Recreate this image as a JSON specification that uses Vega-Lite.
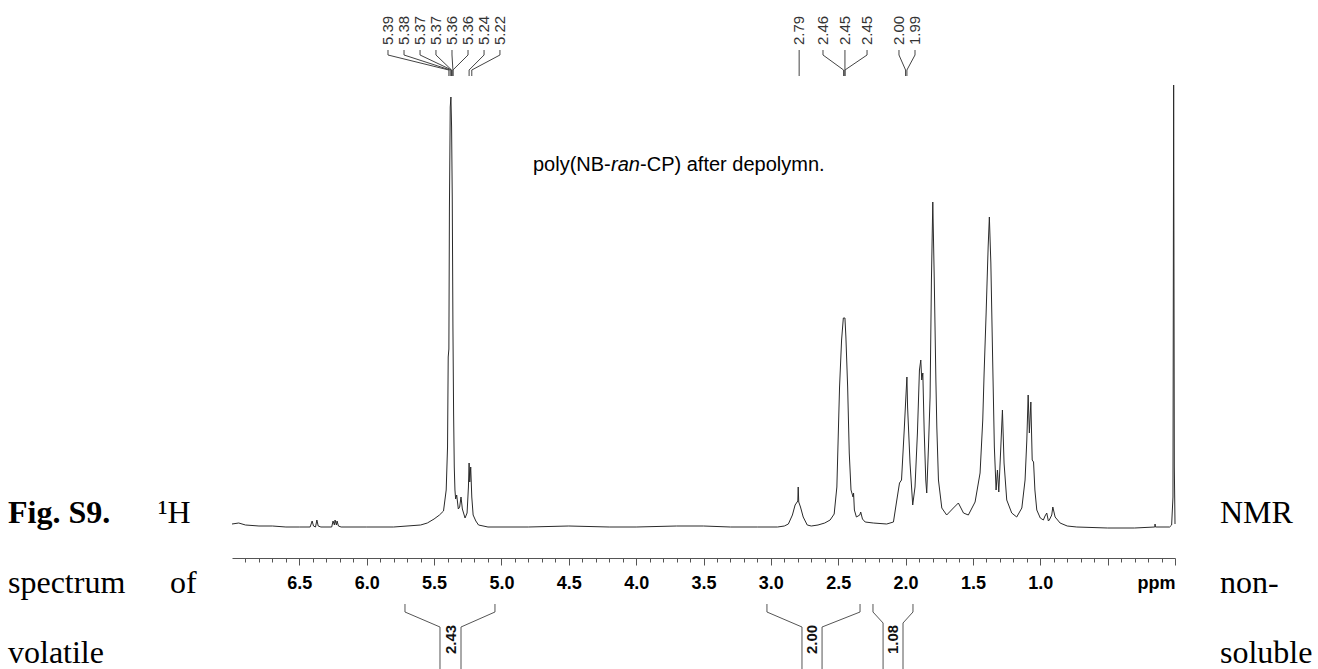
{
  "$schema": "https://vega.github.io/schema/vega-lite/v6.json",
  "width": 943,
  "height": 558,
  "autosize": {"type": "none"},
  "padding": {"left": 232, "right": 143, "top": 0, "bottom": 111},
  "background": "white",
  "config": {"view": {"stroke": null}},
  "resolve": {"axis": {"x": "independent"}},
  "datasets": {
    "spectrum": [
      {"ppm": 7.0, "v": 3}, {"ppm": 6.95, "v": 4}, {"ppm": 6.9, "v": 2}, {"ppm": 6.8, "v": 1}, {"ppm": 6.7, "v": 1}, {"ppm": 6.6, "v": 0}, {"ppm": 6.5, "v": 0},
      {"ppm": 6.42, "v": 0}, {"ppm": 6.405, "v": 6}, {"ppm": 6.395, "v": 1}, {"ppm": 6.38, "v": 0}, {"ppm": 6.37, "v": 7}, {"ppm": 6.36, "v": 1}, {"ppm": 6.34, "v": 0},
      {"ppm": 6.26, "v": 0}, {"ppm": 6.25, "v": 6}, {"ppm": 6.24, "v": 2}, {"ppm": 6.235, "v": 7}, {"ppm": 6.225, "v": 2}, {"ppm": 6.22, "v": 6}, {"ppm": 6.21, "v": 1}, {"ppm": 6.19, "v": 0},
      {"ppm": 6.0, "v": 0}, {"ppm": 5.8, "v": 0}, {"ppm": 5.6, "v": 2}, {"ppm": 5.55, "v": 4}, {"ppm": 5.5, "v": 8}, {"ppm": 5.46, "v": 12}, {"ppm": 5.43, "v": 16},
      {"ppm": 5.41, "v": 37}, {"ppm": 5.4, "v": 80}, {"ppm": 5.395, "v": 170}, {"ppm": 5.39, "v": 178}, {"ppm": 5.386, "v": 320}, {"ppm": 5.38, "v": 420},
      {"ppm": 5.375, "v": 430}, {"ppm": 5.37, "v": 400}, {"ppm": 5.365, "v": 330}, {"ppm": 5.36, "v": 200}, {"ppm": 5.355, "v": 114}, {"ppm": 5.35, "v": 60},
      {"ppm": 5.345, "v": 37}, {"ppm": 5.34, "v": 28}, {"ppm": 5.332, "v": 32}, {"ppm": 5.32, "v": 18}, {"ppm": 5.31, "v": 20}, {"ppm": 5.3, "v": 30},
      {"ppm": 5.29, "v": 18}, {"ppm": 5.27, "v": 9}, {"ppm": 5.255, "v": 14}, {"ppm": 5.245, "v": 40}, {"ppm": 5.24, "v": 64}, {"ppm": 5.235, "v": 45},
      {"ppm": 5.228, "v": 60}, {"ppm": 5.22, "v": 30}, {"ppm": 5.21, "v": 12}, {"ppm": 5.19, "v": 6}, {"ppm": 5.17, "v": 2}, {"ppm": 5.1, "v": 0},
      {"ppm": 4.8, "v": 0}, {"ppm": 4.5, "v": 1}, {"ppm": 4.2, "v": 0}, {"ppm": 4.0, "v": 0}, {"ppm": 3.7, "v": 1}, {"ppm": 3.5, "v": 1}, {"ppm": 3.3, "v": 0}, {"ppm": 3.1, "v": 0},
      {"ppm": 2.95, "v": 0}, {"ppm": 2.9, "v": 1}, {"ppm": 2.87, "v": 3}, {"ppm": 2.84, "v": 12}, {"ppm": 2.82, "v": 22}, {"ppm": 2.8, "v": 26}, {"ppm": 2.797, "v": 40},
      {"ppm": 2.793, "v": 25}, {"ppm": 2.78, "v": 20}, {"ppm": 2.76, "v": 10}, {"ppm": 2.73, "v": 2}, {"ppm": 2.7, "v": 1}, {"ppm": 2.65, "v": 2}, {"ppm": 2.6, "v": 4},
      {"ppm": 2.56, "v": 7}, {"ppm": 2.53, "v": 13}, {"ppm": 2.51, "v": 40}, {"ppm": 2.49, "v": 140}, {"ppm": 2.475, "v": 187}, {"ppm": 2.462, "v": 209},
      {"ppm": 2.45, "v": 209}, {"ppm": 2.443, "v": 190}, {"ppm": 2.43, "v": 140}, {"ppm": 2.418, "v": 74}, {"ppm": 2.405, "v": 37}, {"ppm": 2.39, "v": 30},
      {"ppm": 2.386, "v": 34}, {"ppm": 2.38, "v": 17}, {"ppm": 2.365, "v": 10}, {"ppm": 2.34, "v": 12}, {"ppm": 2.333, "v": 15}, {"ppm": 2.32, "v": 8},
      {"ppm": 2.3, "v": 5}, {"ppm": 2.24, "v": 4}, {"ppm": 2.14, "v": 3}, {"ppm": 2.09, "v": 5}, {"ppm": 2.065, "v": 27}, {"ppm": 2.045, "v": 44},
      {"ppm": 2.03, "v": 47}, {"ppm": 2.01, "v": 97}, {"ppm": 2.0, "v": 124}, {"ppm": 1.99, "v": 150}, {"ppm": 1.985, "v": 120}, {"ppm": 1.967, "v": 64},
      {"ppm": 1.947, "v": 22}, {"ppm": 1.93, "v": 40}, {"ppm": 1.912, "v": 94}, {"ppm": 1.897, "v": 157}, {"ppm": 1.887, "v": 167}, {"ppm": 1.88, "v": 147},
      {"ppm": 1.872, "v": 154}, {"ppm": 1.862, "v": 97}, {"ppm": 1.85, "v": 47}, {"ppm": 1.843, "v": 34}, {"ppm": 1.83, "v": 80}, {"ppm": 1.818, "v": 130},
      {"ppm": 1.808, "v": 247}, {"ppm": 1.798, "v": 325}, {"ppm": 1.787, "v": 247}, {"ppm": 1.775, "v": 147}, {"ppm": 1.768, "v": 100}, {"ppm": 1.756, "v": 47},
      {"ppm": 1.731, "v": 19}, {"ppm": 1.695, "v": 12}, {"ppm": 1.645, "v": 19}, {"ppm": 1.608, "v": 24}, {"ppm": 1.57, "v": 14}, {"ppm": 1.534, "v": 12},
      {"ppm": 1.484, "v": 25}, {"ppm": 1.447, "v": 54}, {"ppm": 1.427, "v": 107}, {"ppm": 1.417, "v": 154}, {"ppm": 1.402, "v": 214}, {"ppm": 1.387, "v": 280},
      {"ppm": 1.378, "v": 310}, {"ppm": 1.367, "v": 264}, {"ppm": 1.353, "v": 164}, {"ppm": 1.341, "v": 80}, {"ppm": 1.328, "v": 37}, {"ppm": 1.318, "v": 57},
      {"ppm": 1.308, "v": 35}, {"ppm": 1.293, "v": 80}, {"ppm": 1.281, "v": 117}, {"ppm": 1.269, "v": 64}, {"ppm": 1.249, "v": 27}, {"ppm": 1.212, "v": 14},
      {"ppm": 1.175, "v": 10}, {"ppm": 1.137, "v": 19}, {"ppm": 1.113, "v": 47}, {"ppm": 1.1, "v": 87}, {"ppm": 1.09, "v": 132}, {"ppm": 1.081, "v": 94},
      {"ppm": 1.07, "v": 125}, {"ppm": 1.06, "v": 67}, {"ppm": 1.05, "v": 65}, {"ppm": 1.04, "v": 37}, {"ppm": 1.026, "v": 17}, {"ppm": 1.0, "v": 9},
      {"ppm": 0.977, "v": 7}, {"ppm": 0.965, "v": 11}, {"ppm": 0.952, "v": 14}, {"ppm": 0.94, "v": 6}, {"ppm": 0.933, "v": 7}, {"ppm": 0.915, "v": 12},
      {"ppm": 0.907, "v": 20}, {"ppm": 0.89, "v": 10}, {"ppm": 0.853, "v": 4}, {"ppm": 0.8, "v": 1}, {"ppm": 0.729, "v": 0}, {"ppm": 0.5, "v": -1},
      {"ppm": 0.3, "v": -1}, {"ppm": 0.15, "v": 0}, {"ppm": 0.148, "v": 3}, {"ppm": 0.145, "v": 0}, {"ppm": 0.04, "v": 0}, {"ppm": 0.025, "v": 2},
      {"ppm": 0.015, "v": 30}, {"ppm": 0.01, "v": 442}, {"ppm": 0.005, "v": 60}, {"ppm": 0.0, "v": 3}
    ],
    "leaders": [
      {"g": "a1", "s": 0, "ppm": 5.842, "v": 477}, {"g": "a1", "s": 1, "ppm": 5.842, "v": 472}, {"g": "a1", "s": 2, "ppm": 5.39, "v": 457}, {"g": "a1", "s": 3, "ppm": 5.39, "v": 451},
      {"g": "a2", "s": 0, "ppm": 5.723, "v": 477}, {"g": "a2", "s": 1, "ppm": 5.723, "v": 472}, {"g": "a2", "s": 2, "ppm": 5.38, "v": 457}, {"g": "a2", "s": 3, "ppm": 5.38, "v": 451},
      {"g": "a3", "s": 0, "ppm": 5.604, "v": 477}, {"g": "a3", "s": 1, "ppm": 5.604, "v": 472}, {"g": "a3", "s": 2, "ppm": 5.37, "v": 457}, {"g": "a3", "s": 3, "ppm": 5.37, "v": 451},
      {"g": "a4", "s": 0, "ppm": 5.486, "v": 477}, {"g": "a4", "s": 1, "ppm": 5.486, "v": 472}, {"g": "a4", "s": 2, "ppm": 5.37, "v": 457}, {"g": "a4", "s": 3, "ppm": 5.37, "v": 451},
      {"g": "a5", "s": 0, "ppm": 5.367, "v": 477}, {"g": "a5", "s": 1, "ppm": 5.367, "v": 472}, {"g": "a5", "s": 2, "ppm": 5.36, "v": 457}, {"g": "a5", "s": 3, "ppm": 5.36, "v": 451},
      {"g": "a6", "s": 0, "ppm": 5.248, "v": 477}, {"g": "a6", "s": 1, "ppm": 5.248, "v": 472}, {"g": "a6", "s": 2, "ppm": 5.36, "v": 457}, {"g": "a6", "s": 3, "ppm": 5.36, "v": 451},
      {"g": "a7", "s": 0, "ppm": 5.129, "v": 477}, {"g": "a7", "s": 1, "ppm": 5.129, "v": 472}, {"g": "a7", "s": 2, "ppm": 5.24, "v": 457}, {"g": "a7", "s": 3, "ppm": 5.24, "v": 451},
      {"g": "a8", "s": 0, "ppm": 5.011, "v": 477}, {"g": "a8", "s": 1, "ppm": 5.011, "v": 472}, {"g": "a8", "s": 2, "ppm": 5.22, "v": 457}, {"g": "a8", "s": 3, "ppm": 5.22, "v": 451},
      {"g": "b1", "s": 0, "ppm": 2.79, "v": 477}, {"g": "b1", "s": 1, "ppm": 2.79, "v": 451},
      {"g": "b2", "s": 0, "ppm": 2.613, "v": 477}, {"g": "b2", "s": 1, "ppm": 2.613, "v": 472}, {"g": "b2", "s": 2, "ppm": 2.46, "v": 457}, {"g": "b2", "s": 3, "ppm": 2.46, "v": 451},
      {"g": "b3", "s": 0, "ppm": 2.45, "v": 477}, {"g": "b3", "s": 1, "ppm": 2.45, "v": 451},
      {"g": "b4", "s": 0, "ppm": 2.286, "v": 477}, {"g": "b4", "s": 1, "ppm": 2.286, "v": 472}, {"g": "b4", "s": 2, "ppm": 2.45, "v": 457}, {"g": "b4", "s": 3, "ppm": 2.45, "v": 451},
      {"g": "c1", "s": 0, "ppm": 2.049, "v": 477}, {"g": "c1", "s": 1, "ppm": 2.049, "v": 472}, {"g": "c1", "s": 2, "ppm": 2.0, "v": 457}, {"g": "c1", "s": 3, "ppm": 2.0, "v": 451},
      {"g": "c2", "s": 0, "ppm": 1.93, "v": 477}, {"g": "c2", "s": 1, "ppm": 1.93, "v": 472}, {"g": "c2", "s": 2, "ppm": 1.99, "v": 457}, {"g": "c2", "s": 3, "ppm": 1.99, "v": 451}
    ],
    "peakLabels": [
      {"t": "5.39", "ppm": 5.842, "v": 482}, {"t": "5.38", "ppm": 5.723, "v": 482}, {"t": "5.37", "ppm": 5.604, "v": 482}, {"t": "5.37", "ppm": 5.486, "v": 482},
      {"t": "5.36", "ppm": 5.367, "v": 482}, {"t": "5.36", "ppm": 5.248, "v": 482}, {"t": "5.24", "ppm": 5.129, "v": 482}, {"t": "5.22", "ppm": 5.011, "v": 482},
      {"t": "2.79", "ppm": 2.79, "v": 482}, {"t": "2.46", "ppm": 2.613, "v": 482}, {"t": "2.45", "ppm": 2.45, "v": 482}, {"t": "2.45", "ppm": 2.286, "v": 482},
      {"t": "2.00", "ppm": 2.049, "v": 482}, {"t": "1.99", "ppm": 1.93, "v": 482}
    ],
    "brackets": [
      {"g": "i1l", "s": 0, "ppm": 5.716, "v": -77}, {"g": "i1l", "s": 1, "ppm": 5.716, "v": -85}, {"g": "i1l", "s": 2, "ppm": 5.456, "v": -100}, {"g": "i1l", "s": 3, "ppm": 5.456, "v": -142},
      {"g": "i1r", "s": 0, "ppm": 5.048, "v": -77}, {"g": "i1r", "s": 1, "ppm": 5.048, "v": -85}, {"g": "i1r", "s": 2, "ppm": 5.3, "v": -100}, {"g": "i1r", "s": 3, "ppm": 5.3, "v": -142},
      {"g": "i2l", "s": 0, "ppm": 3.029, "v": -77}, {"g": "i2l", "s": 1, "ppm": 3.029, "v": -85}, {"g": "i2l", "s": 2, "ppm": 2.769, "v": -100}, {"g": "i2l", "s": 3, "ppm": 2.769, "v": -142},
      {"g": "i2r", "s": 0, "ppm": 2.338, "v": -77}, {"g": "i2r", "s": 1, "ppm": 2.338, "v": -85}, {"g": "i2r", "s": 2, "ppm": 2.62, "v": -100}, {"g": "i2r", "s": 3, "ppm": 2.62, "v": -142},
      {"g": "i3l", "s": 0, "ppm": 2.242, "v": -77}, {"g": "i3l", "s": 1, "ppm": 2.242, "v": -85}, {"g": "i3l", "s": 2, "ppm": 2.167, "v": -96}, {"g": "i3l", "s": 3, "ppm": 2.167, "v": -142},
      {"g": "i3r", "s": 0, "ppm": 1.945, "v": -77}, {"g": "i3r", "s": 1, "ppm": 1.945, "v": -85}, {"g": "i3r", "s": 2, "ppm": 2.019, "v": -96}, {"g": "i3r", "s": 3, "ppm": 2.019, "v": -142}
    ],
    "integrals": [
      {"t": "2.43", "ppm": 5.378, "v": -127}, {"t": "2.00", "ppm": 2.695, "v": -127}, {"t": "1.08", "ppm": 2.093, "v": -127}
    ],
    "titlePlain": [
      {"t": "poly(NB-", "ppm": 4.766, "v": 362},
      {"t": "-CP) after depolymn.", "ppm": 3.971, "v": 362}
    ],
    "titleItalic": [
      {"t": "ran", "ppm": 4.186, "v": 362}
    ],
    "captionBold": [
      {"t": "Fig. S9.", "ppm": 8.6628, "v": 4}
    ],
    "caption": [
      {"t": "¹H", "ppm": 7.5493, "v": 4},
      {"t": "NMR", "ppm": -0.3341, "v": 4},
      {"t": "spectrum", "ppm": 8.6628, "v": -66},
      {"t": "of", "ppm": 7.4602, "v": -66},
      {"t": "non-", "ppm": -0.3341, "v": -66},
      {"t": "volatile", "ppm": 8.6628, "v": -136},
      {"t": "soluble", "ppm": -0.3341, "v": -136}
    ]
  },
  "layer": [
    {
      "data": {"name": "spectrum"},
      "mark": {"type": "line", "color": "#2a2a2a", "strokeWidth": 1, "clip": false},
      "encoding": {
        "x": {
          "field": "ppm", "type": "quantitative",
          "scale": {"domain": [0, 7], "reverse": true, "nice": false, "zero": false},
          "axis": {
            "orient": "bottom",
            "values": [6.5, 6.0, 5.5, 5.0, 4.5, 4.0, 3.5, 3.0, 2.5, 2.0, 1.5, 1.0, 0.5, 0.0],
            "title": null,
            "grid": false,
            "domainColor": "#555555",
            "domainWidth": 1,
            "tickColor": "#555555",
            "tickWidth": 1,
            "tickSize": 7,
            "labelExpr": "datum.value < 0.01 ? 'ppm' : (abs(datum.value - 0.5) < 0.01 ? '' : format(datum.value, '.1f'))",
            "labelAlign": {"condition": {"test": "datum.value < 0.01", "value": "right"}, "value": "center"},
            "labelFont": "Liberation Sans",
            "labelFontWeight": "bold",
            "labelFontSize": 18,
            "labelColor": "#000000",
            "labelPadding": 9,
            "labelOverlap": false,
            "labelFlush": false,
            "labelBound": false
          }
        },
        "y": {
          "field": "v", "type": "quantitative",
          "scale": {"domain": [-31, 527], "nice": false, "zero": false},
          "axis": null
        }
      }
    },
    {
      "data": {"name": "leaders"},
      "mark": {"type": "line", "color": "#444444", "strokeWidth": 1, "clip": false},
      "encoding": {
        "x": {
          "field": "ppm", "type": "quantitative",
          "axis": {
            "orient": "bottom",
            "values": [6.9, 6.8, 6.7, 6.6, 6.4, 6.3, 6.2, 6.1, 5.9, 5.8, 5.7, 5.6, 5.4, 5.3, 5.2, 5.1, 4.9, 4.8, 4.7, 4.6, 4.4, 4.3, 4.2, 4.1, 3.9, 3.8, 3.7, 3.6, 3.4, 3.3, 3.2, 3.1, 2.9, 2.8, 2.7, 2.6, 2.4, 2.3, 2.2, 2.1, 1.9, 1.8, 1.7, 1.6, 1.4, 1.3, 1.2, 1.1, 0.9, 0.8, 0.7, 0.6, 0.4, 0.3, 0.2, 0.1],
            "title": null,
            "grid": false,
            "domain": false,
            "labels": false,
            "tickColor": "#555555",
            "tickWidth": 1,
            "tickSize": 4
          }
        },
        "y": {"field": "v", "type": "quantitative"},
        "detail": {"field": "g"},
        "order": {"field": "s", "type": "quantitative"}
      }
    },
    {
      "data": {"name": "peakLabels"},
      "mark": {"type": "text", "angle": 270, "align": "left", "baseline": "middle", "font": "Liberation Sans", "fontSize": 15, "color": "#333333"},
      "encoding": {
        "x": {"field": "ppm", "type": "quantitative", "axis": null},
        "y": {"field": "v", "type": "quantitative"},
        "text": {"field": "t"}
      }
    },
    {
      "data": {"name": "brackets"},
      "mark": {"type": "line", "color": "#555555", "strokeWidth": 1, "clip": false},
      "encoding": {
        "x": {"field": "ppm", "type": "quantitative", "axis": null},
        "y": {"field": "v", "type": "quantitative"},
        "detail": {"field": "g"},
        "order": {"field": "s", "type": "quantitative"}
      }
    },
    {
      "data": {"name": "integrals"},
      "mark": {"type": "text", "angle": 270, "align": "left", "baseline": "middle", "font": "Liberation Sans", "fontSize": 15, "fontWeight": "bold", "color": "#111111"},
      "encoding": {
        "x": {"field": "ppm", "type": "quantitative", "axis": null},
        "y": {"field": "v", "type": "quantitative"},
        "text": {"field": "t"}
      }
    },
    {
      "data": {"name": "titlePlain"},
      "mark": {"type": "text", "align": "left", "baseline": "middle", "font": "Liberation Sans", "fontSize": 20, "color": "#000000"},
      "encoding": {
        "x": {"field": "ppm", "type": "quantitative", "axis": null},
        "y": {"field": "v", "type": "quantitative"},
        "text": {"field": "t"}
      }
    },
    {
      "data": {"name": "titleItalic"},
      "mark": {"type": "text", "align": "left", "baseline": "middle", "font": "Liberation Sans", "fontSize": 20, "fontStyle": "italic", "color": "#000000"},
      "encoding": {
        "x": {"field": "ppm", "type": "quantitative", "axis": null},
        "y": {"field": "v", "type": "quantitative"},
        "text": {"field": "t"}
      }
    },
    {
      "data": {"name": "captionBold"},
      "mark": {"type": "text", "align": "left", "baseline": "alphabetic", "font": "Liberation Serif", "fontSize": 32, "fontWeight": "bold", "color": "#000000"},
      "encoding": {
        "x": {"field": "ppm", "type": "quantitative", "axis": null},
        "y": {"field": "v", "type": "quantitative"},
        "text": {"field": "t"}
      }
    },
    {
      "data": {"name": "caption"},
      "mark": {"type": "text", "align": "left", "baseline": "alphabetic", "font": "Liberation Serif", "fontSize": 32, "color": "#000000"},
      "encoding": {
        "x": {"field": "ppm", "type": "quantitative", "axis": null},
        "y": {"field": "v", "type": "quantitative"},
        "text": {"field": "t"}
      }
    }
  ]
}
